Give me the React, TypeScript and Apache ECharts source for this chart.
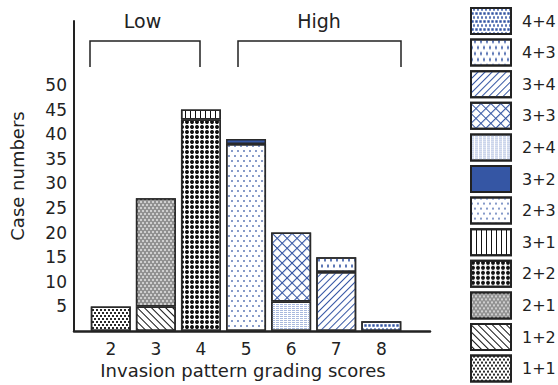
import React, { useEffect, useRef } from "react";
import * as echarts from "echarts";

// ---- data ----
const scores = [2, 3, 4, 5, 6, 7, 8];
const yTicks = [5, 10, 15, 20, 25, 30, 35, 40, 45, 50];
const patternNames = ["1+1", "1+2", "2+1", "2+2", "3+1", "2+3", "3+2", "2+4", "3+3", "3+4", "4+3", "4+4"];
const v11 = [5, null, null, null, null, null, null];
const v12 = [null, 5, null, null, null, null, null];
const v21 = [null, 22, null, null, null, null, null];
const v22 = [null, null, 43, null, null, null, null];
const v31 = [null, null, 2, null, null, null, null];
const v23 = [null, null, null, 38, null, null, null];
const v32 = [null, null, null, 1, null, null, null];
const v24 = [null, null, null, null, 6, null, null];
const v33 = [null, null, null, null, 14, null, null];
const v34 = [null, null, null, null, null, 12, null];
const v43 = [null, null, null, null, null, 3, null];
const v44 = [null, null, null, null, null, null, 2];
const seriesValues = [v11, v12, v21, v22, v31, v23, v32, v24, v33, v34, v43, v44];

// ---- styles ----
const BLUE = "#3556a4";
const DARK = "#111";
const FONT = "DejaVu Sans";
const styles: Record<string, any> = {
  "1+1": { color: "#fff", decal: { symbol: "rect", symbolSize: 0.9, color: DARK, dashArrayX: [[2, 2], [0, 2, 2, 0]], dashArrayY: [2, 1] } },
  "1+2": { color: "#fff", decal: { symbol: "rect", symbolSize: 1, color: DARK, dashArrayX: [1, 0], dashArrayY: [1, 4], rotation: Math.PI / 4 } },
  "2+1": { color: "#919191", decal: { symbol: "rect", symbolSize: 0.75, color: "#fff", dashArrayX: [[2, 2], [0, 2, 2, 0]], dashArrayY: [2, 1] } },
  "2+2": { color: "#fff", decal: { symbol: "circle", symbolSize: 1, color: DARK, dashArrayX: [4, 1], dashArrayY: [4, 1] } },
  "3+1": { color: "#fff", decal: { symbol: "rect", symbolSize: 1, color: DARK, dashArrayX: [1, 4], dashArrayY: [1, 0] } },
  "2+3": { color: "#fff", decal: { symbol: "rect", symbolSize: 0.8, color: BLUE, dashArrayX: [[2, 4], [0, 3, 2, 1]], dashArrayY: [2, 3] } },
  "3+2": { color: BLUE },
  "2+4": { color: "#fff", decal: { symbol: "rect", symbolSize: 1, symbolKeepAspect: false, color: "#a9b9de", dashArrayX: [3, 1], dashArrayY: [1, 1] } },
  "3+3": { color: "#fff", decal: { symbol: "path://M0 0H10V1.6H1.6V10H0Z", symbolSize: 1, symbolKeepAspect: false, color: BLUE, dashArrayX: [7, 0], dashArrayY: [7, 0], rotation: Math.PI / 4 } },
  "3+4": { color: "#fff", decal: { symbol: "rect", symbolSize: 1, color: BLUE, dashArrayX: [1, 0], dashArrayY: [1, 4], rotation: -Math.PI / 4 } },
  "4+3": { color: "#fff", decal: { symbol: "rect", symbolSize: 0.8, symbolKeepAspect: false, color: BLUE, dashArrayX: [[2, 4], [0, 3, 2, 1]], dashArrayY: [4, 2] } },
  "4+4": { color: "#fff", decal: { symbol: "rect", symbolSize: 0.8, color: BLUE, dashArrayX: [[3, 1], [0, 2, 2, 0]], dashArrayY: [3, 1] } },
};

export default function App() {
  const ref = useRef<HTMLDivElement>(null);
  useEffect(() => {
    if (!ref.current) return;
    const chart = echarts.init(ref.current, undefined, { renderer: "svg" });
    const series = patternNames.map((name, k) => ({
      name,
      type: "bar",
      stack: "all",
      barWidth: 40,
      // [count, score]: count first so that it is the stacked dimension
      data: scores.map((s, i) => [seriesValues[k][i], s]),
      encode: { x: 1, y: 0 },
      itemStyle: {
        color: styles[name].color,
        borderColor: "#2a2a2a",
        borderWidth: 1.5,
        ...(styles[name].decal ? { decal: styles[name].decal } : {}),
      },
    }));
    chart.setOption({
      animation: false,
      textStyle: { fontFamily: FONT },
      grid: { left: 72, right: 128, top: 21, bottom: 54, containLabel: false },
      xAxis: {
        type: "value",
        min: 1.184,
        max: 9.08,
        name: "Invasion pattern grading scores",
        nameLocation: "middle",
        nameGap: 30,
        nameTextStyle: { fontSize: 18, color: "#222", fontFamily: FONT, padding: [0, 18, 0, 0] },
        axisLine: { show: true, lineStyle: { color: "#222", width: 2.5 } },
        axisTick: { show: false },
        splitLine: { show: false },
        axisLabel: { customValues: scores, fontSize: 17, color: "#222", fontFamily: FONT, margin: 9 },
      },
      yAxis: {
        type: "value",
        min: 0,
        max: 63,
        name: "Case numbers",
        nameLocation: "middle",
        nameGap: 48,
        nameTextStyle: { fontSize: 18, color: "#222", fontFamily: FONT },
        axisLine: { show: true, lineStyle: { color: "#222", width: 2 } },
        axisTick: { show: false },
        splitLine: { show: false },
        axisLabel: { customValues: yTicks, fontSize: 17, color: "#222", fontFamily: FONT, margin: 7, padding: [6, 0, 0, 0] },
      },
      legend: {
        orient: "vertical",
        left: 470,
        top: 7,
        padding: 0,
        itemWidth: 40,
        itemHeight: 26,
        itemGap: 3.6,
        icon: "rect",
        data: [...patternNames].reverse(),
        itemStyle: { borderColor: "#222", borderWidth: 2 },
        textStyle: { fontSize: 16, color: "#222", fontFamily: FONT, padding: [0, 0, 0, 6] },
        selectedMode: false,
      },
      graphic: [
        { type: "text", x: 142.5, y: 21, style: { text: "Low", fontSize: 19, fontFamily: FONT, fill: "#222", textAlign: "center", textVerticalAlign: "middle" } },
        { type: "text", x: 319, y: 21, style: { text: "High", fontSize: 19, fontFamily: FONT, fill: "#222", textAlign: "center", textVerticalAlign: "middle" } },
        { type: "polyline", shape: { points: [[90, 67], [90, 41], [200, 41], [200, 67]] }, style: { stroke: "#222", lineWidth: 1.5, fill: null } },
        { type: "polyline", shape: { points: [[238, 67], [238, 41], [401, 41], [401, 67]] }, style: { stroke: "#222", lineWidth: 1.5, fill: null } },
      ],
      series,
    });
    return () => chart.dispose();
  }, []);
  return <div ref={ref} style={{ position: "fixed", left: 0, top: 0, width: 558, height: 385, background: "#fff" }} />;
}
